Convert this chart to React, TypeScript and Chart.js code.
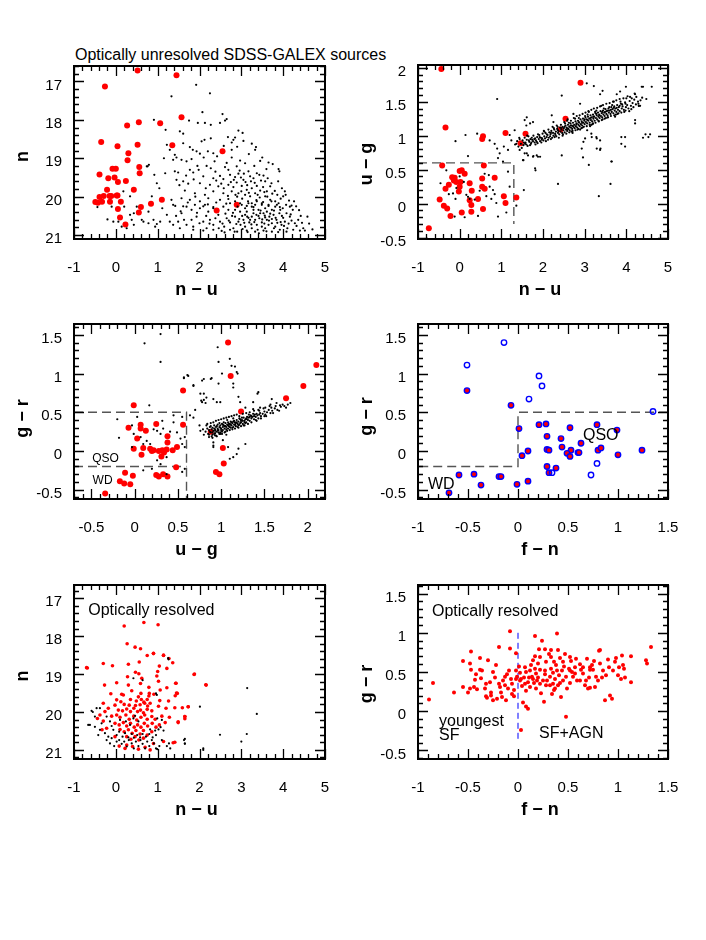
import React, { useEffect, useRef } from 'react';
import { Chart, registerables } from 'chart.js';

Chart.register(...registerables);

const FONT = '"Liberation Sans", Arial, Helvetica, sans-serif';

// ---------------- DATA ----------------
// Panel 1 : n vs n-u (optically unresolved)
const P1_X_TICKS = [-1, 0, 1, 2, 3, 4, 5];
const P1_Y_TICKS = [17, 18, 19, 20, 21];
const P1_RED = [
  0.52,16.72, 1.45,16.84, -0.26,17.13, 1.57,17.93, 0.55,18.06, 1.06,18.09, 0.27,18.15, -0.35,18.58,
  0.04,18.69, 0.52,18.65, 1.35,18.66, 2.55,18.82, 0.30,18.87, 0.28,19.05, -0.08,19.27, 0.0,19.27,
  0.56,19.23, 0.57,19.39, -0.39,19.42, -0.18,19.52, -0.03,19.5, 0.05,19.62, 0.24,19.59, 0.43,19.82,
  -0.21,19.82, -0.29,19.98, -0.39,20.01, -0.15,19.98, -0.11,19.98, 0.02,19.97, 0.04,19.97, -0.49,20.14,
  -0.43,20.16, -0.33,20.13, -0.14,20.13, 0.12,20.13, 0.05,20.32, 0.60,20.27, 0.84,20.18, 1.10,20.08,
  0.55,20.41, 0.10,20.54, 0.23,20.72, 2.41,20.36, 2.89,20.21,
];
const P1_BLACK = [
  1.92,17.09, 2.25,17.31, 1.33,17.39, 2.07,17.8, 2.55,17.85, 1.75,18.02, 1.96,18.08, 2.13,18.08, 2.27,18.13,
  2.49,18.08, 2.61,18.02, 2.65,17.98, 2.93,18.28, 3.03,18.34, 1.53,18.30, 1.61,18.36, 2.12,18.52, 2.05,18.56,
  2.27,18.48, 2.85,18.46, 2.81,18.52, 2.77,18.59, 1.61,18.61, 1.77,18.71, 1.84,18.78, 1.93,18.82, 2.01,18.88,
  3.35,18.71, 3.33,18.78, 3.18,18.89, 2.33,18.87, 2.77,18.78, 1.41,18.91, 1.45,18.98, 1.57,19.04, 1.69,19.08,
  1.81,19.02, 2.77,18.98, 2.97,19.06, 3.09,19.13, 3.45,19.07, 3.65,19.11, 3.89,19.28, 3.91,19.34, 2.17,19.2,
  2.27,19.26, 2.61,19.23, 2.69,19.3, 2.89,19.21, 3.17,19.34, 3.37,19.39, 3.43,19.43, 1.49,19.37, 1.77,19.3,
  1.85,19.37, 2.09,19.47, 2.33,19.52, 2.49,19.46, 2.57,19.54, 2.73,19.43, 2.85,19.49, 2.93,19.40, 3.05,19.56,
  3.21,19.47, 3.29,19.52, 3.57,19.6, 3.69,19.73, 3.97,19.78, 4.04,19.86, 1.61,19.6, 1.73,19.66, 2.01,19.65,
  2.25,19.69, 2.45,19.73, 2.69,19.69, 2.81,19.75, 2.89,19.63, 3.01,19.72, 3.13,19.82, 3.25,19.78, 3.37,19.72,
  3.45,19.84, 3.61,19.86, 1.65,19.84, 1.89,19.91, 2.13,19.95, 2.33,19.86, 2.57,19.91, 2.77,19.86, 2.93,19.91,
  3.09,19.95, 3.21,19.99, 3.33,19.91, 3.57,19.99, 3.69,20.08, 3.81,20.12, 4.0,19.99, 4.2,20.23, 4.31,20.25,
  1.77,20.08, 2.01,20.12, 2.21,20.04, 2.49,20.08, 2.69,20.06, 2.85,20.12, 2.97,20.17, 3.25,20.17, 3.37,20.12,
  3.49,20.21, 3.65,20.24, 3.85,20.21, 3.92,20.27, 1.42,20.24, 1.61,20.25, 2.09,20.25, 2.33,20.27, 3.13,20.24,
  3.29,20.27,
  -0.44,20.27, -0.2,20.59, -0.06,20.65, 0.34,20.47, 0.38,20.6, 0.43,20.73, 0.5,20.26, 0.74,19.21, 0.79,19.17,
  0.62,20.6, 0.66,20.65, 0.78,20.69, 0.9,20.6, 0.94,20.78, 0.98,20.71, 1.06,20.65, 1.11,20.3, 1.15,19.0,
  1.18,19.39, 0.91,18.0, 1.19,18.26, 1.22,18.65, 1.29,18.78, 1.37,19.04, 1.41,19.34, 1.45,19.56, 1.33,20.08,
  1.37,20.21, 1.22,20.47, 1.29,20.65, 1.37,20.73, 1.49,20.65, 1.53,20.82, 1.63,20.6, 1.69,20.73, 1.57,20.43,
  1.81,20.6, 1.85,20.78, 1.93,20.52, 2.0,20.69, 2.09,20.65, 2.17,20.82, 2.25,20.6, 2.33,20.73, 2.45,20.47,
  2.49,20.65, 2.59,20.78, 2.65,20.56, 2.73,20.67, 2.81,20.82, 2.85,20.52, 2.93,20.65, 2.98,20.73, 3.05,20.6,
  3.09,20.78, 3.14,20.52, 3.19,20.67, 3.25,20.82, 3.29,20.43, 3.33,20.6, 3.37,20.73, 3.43,20.56, 3.49,20.67,
  3.53,20.43, 3.57,20.82, 3.61,20.6, 3.67,20.52, 3.73,20.69, 3.78,20.82, 3.84,20.6, 3.91,20.43, 3.96,20.73,
  4.04,20.65, 4.1,20.82, 4.16,20.52, 4.23,20.34, 4.28,20.69, 4.36,20.6, 4.48,20.82, 4.58,20.52, 4.52,20.88,
  2.85,20.34, 2.91,20.26, 3.01,20.21, 3.09,20.3, 3.17,20.17, 3.25,20.26, 3.33,20.21, 3.41,20.34, 3.49,20.17,
  3.57,20.3, 3.65,20.21, 3.73,20.34, 3.81,20.26, 3.89,20.17, 3.99,20.3, 4.07,20.21, 4.16,20.26, 2.01,20.3,
  2.13,20.21, 2.21,20.39, 2.33,20.3, 2.57,20.26, 2.69,20.34, 2.73,20.17, 1.69,20.26, 1.81,20.34, 1.89,20.21,
  1.57,20.04, 1.85,20.86, 2.09,20.88, 2.33,20.86, 2.53,20.89, 2.73,20.86, 2.9,20.91, 3.13,20.88, 3.33,20.91,
  3.53,20.88, 3.73,20.91, 3.92,20.86, 4.08,20.91, 4.24,20.86, 4.4,20.88, 2.97,20.39, 3.13,20.39, 3.29,20.34,
  3.45,20.43, 3.61,20.39, 3.77,20.47, 3.93,20.34, 4.08,20.43, 3.09,20.47, 3.25,20.52, 3.41,20.5, 3.57,20.54,
  3.73,20.58, 2.95,20.58, 3.21,20.6, 3.49,20.78, 3.65,20.73, 3.81,20.78, 0.76,19.21, 0.92,19.43, 0.98,19.65,
  1.04,19.78, 0.86,19.99, 0.18,19.86, 0.34,19.99, 0.2,20.26, 0.43,20.43, 0.78,20.39, -0.1,20.26, 0.06,20.65,
  0.14,20.78, 0.26,20.82,
  2.62,20.44, 2.78,20.5, 2.88,20.71, 3.03,20.84, 3.17,20.55, 3.31,20.66, 3.39,20.86, 3.55,20.7, 3.69,20.44,
  3.86,20.68, 4.0,20.55, 4.13,20.7, 3.46,20.36, 3.02,20.5, 2.7,20.62, 2.46,20.82, 2.24,20.7, 3.36,20.47,
  3.6,20.9, 3.88,20.92, 4.32,20.76, 4.2,20.62, 3.78,20.36, 3.24,20.72, 2.84,20.91, 3.5,20.59, 3.15,20.92,
  2.6,20.93, 3.97,20.5, 4.45,20.68, 3.42,20.95, 3.07,20.68, 3.56,20.49,
  2.58,19.78, 2.82,19.56, 3.1,19.62, 3.32,19.64, 3.52,19.75, 3.74,19.92, 3.0,19.86, 2.68,19.98, 3.44,20.02,
  3.86,19.95, 2.4,19.58, 3.18,19.9, 3.62,20.0, 2.96,19.32, 3.53,19.45,
  1.52,19.7, 1.68,19.45, 1.95,19.2, 2.15,19.78, 2.38,19.35, 2.52,19.66, 2.65,19.12, 2.75,19.62, 2.86,19.95,
  2.99,19.5, 3.06,19.4, 3.14,19.7, 3.23,19.6, 3.31,19.2, 3.39,19.95, 3.47,19.58, 3.55,19.88, 3.63,19.52,
  3.72,19.65, 3.8,19.85, 3.88,19.6, 3.94,20.05, 4.06,19.95, 4.14,20.1, 4.26,20.12, 4.38,20.35, 4.42,20.5,
  4.62,20.7, 4.7,20.85, 2.2,18.82, 2.42,18.95, 2.58,18.68, 2.68,18.45, 2.9,18.7, 3.05,18.55, 3.25,18.62,
  3.5,18.98, 3.75,19.15, 3.6,19.28, 2.36,19.08, 2.1,18.98, 1.98,19.3, 1.86,19.55, 1.9,20.0, 1.72,20.15,
  1.55,20.38, 1.44,20.5, 1.94,20.42, 2.16,20.5, 2.38,20.56, 2.55,20.7, 2.8,20.42, 3.66,20.62, 3.82,20.55,
  4.02,20.76, 3.94,20.66, 4.18,20.46, 3.36,20.09, 3.02,20.05, 2.64,20.18, 2.4,20.15, 2.2,20.2, 3.72,20.12,
  3.16,20.12, 3.52,20.14, 2.9,20.0,
];

// Panel 2 : u-g vs n-u
const P2_X_TICKS = [-1, 0, 1, 2, 3, 4, 5];
const P2_Y_TICKS = [-0.5, 0, 0.5, 1, 1.5, 2];
const P2_RED = [
  -0.44,1.98, 2.9,1.78, -0.34,1.12, 2.54,1.25, 0.54,0.95, 0.56,0.99, 1.1,1.04, 1.58,1.03, 1.46,0.89, 2.42,1.09,
  -0.42,0.56, 0.58,0.56, 0.0,0.48, 0.05,0.49, 0.12,0.44, -0.18,0.39, -0.12,0.38, -0.14,0.34, -0.08,0.32,
  -0.26,0.28, -0.34,0.22, -0.02,0.18, 0.02,0.32, 0.0,0.25, 0.24,0.3, 0.29,0.19, 0.54,0.37, 0.54,0.25, 0.6,0.22,
  0.84,0.38, 0.44,0.07, 0.24,0.05, 0.28,-0.02, 1.06,0.11, 1.36,0.09, 1.1,0.01, -0.48,0.06, -0.38,-0.03,
  -0.3,-0.07, 0.05,-0.13, 0.28,-0.12, 0.56,-0.08, -0.22,-0.18, -0.74,-0.36,
];
const P2_BLACK = [
  2.45,1.59, 3.05,1.77, 3.22,1.73, 3.43,1.66, 3.37,1.61, 3.77,1.61, 3.85,1.65, 3.99,1.72, 4.21,1.61, 4.37,1.72,
  4.61,1.72, 4.29,1.47, 4.33,1.44, 4.09,1.57, 2.21,1.3, 2.25,1.2, 1.61,1.27, 1.69,1.18, 3.01,0.96, 3.17,0.98,
  3.29,0.96, 3.37,0.93, 2.97,0.91, 2.93,0.81, 3.29,0.81, 3.37,0.79, 3.65,0.62, 3.97,0.98, 3.97,0.84, 4.21,1.23,
  4.21,1.18, 4.53,0.98, 4.57,1.02, 1.93,0.69, 1.85,0.71, 1.77,0.7, 1.61,0.74, 1.53,0.64, 1.81,0.52, 2.45,0.71,
  2.73,1.32, 2.89,1.47, 0.9,1.54, -0.1,0.92, 0.14,1.01, 0.2,0.7, 0.42,1.03, 0.72,0.93, 0.84,0.88, 0.9,0.81,
  0.96,0.74, 0.92,0.67, 1.06,0.84, 1.16,0.79, 1.2,1.01, 1.32,1.08, 1.24,0.93, 1.36,0.88, 1.44,0.79, 1.56,1.23,
  1.6,1.15, 1.76,1.2, 1.56,0.74, 1.64,0.71, 1.76,0.69, 1.88,0.69, 1.82,0.49, 1.52,0.64, 2.36,0.29, 2.96,0.68,
  3.1,0.57, 3.34,0.11, 3.62,0.29, 3.64,0.62, 3.38,0.81, 3.88,0.98, 3.88,0.88, 4.4,0.97, 4.46,1.02, 4.3,1.44,
  4.38,1.56, 4.48,1.54, 4.4,1.72, 4.2,1.62, 3.06,1.08, 3.16,1.03, 3.28,0.98,
  -0.26,0.14, -0.16,0.15, -0.08,0.23, 0.0,0.4, 0.1,0.32, 0.16,0.13, 0.2,0.1, 0.24,0.07, 0.36,0.06, 0.48,0.19,
  0.6,0.44, 0.7,0.42, 0.72,0.25, 0.8,0.2, 0.84,0.14, 0.76,0.07, 0.64,0.11, 0.88,0.01, 0.92,-0.19, 1.12,-0.13,
  1.36,-0.03, 1.2,0.25, 1.16,0.47, 1.04,0.62, 0.44,-0.18, 0.12,-0.2, -0.12,-0.19, -0.32,0.49, -0.46,0.3,
  -0.1,0.07, 1.54,0.2,
  1.33,0.87, 1.38,0.92, 1.41,0.84, 1.44,0.95, 1.47,0.88, 1.51,0.93, 1.53,0.86, 1.56,0.97, 1.58,0.9, 1.61,0.94,
  1.63,0.85, 1.65,0.99, 1.67,0.91, 1.7,0.95, 1.71,0.88, 1.73,0.97, 1.76,0.92, 1.77,1.0, 1.8,0.9, 1.81,0.96,
  1.83,0.93, 1.86,0.98, 1.87,0.89, 1.9,0.95, 1.91,1.01, 1.93,0.92, 1.95,0.97, 1.97,0.94, 1.99,1.03, 2.01,0.93,
  2.03,0.99, 2.05,0.96, 2.06,1.04, 2.09,0.98, 2.11,1.01, 2.12,0.94, 2.15,1.05, 2.17,0.99, 2.18,1.02, 2.2,1.07,
  2.22,0.97, 2.24,1.04, 2.25,1.0, 2.27,1.09, 2.29,1.03, 2.31,1.06, 2.32,0.99, 2.34,1.1, 2.36,1.04, 2.37,1.07,
  2.39,1.02, 2.41,1.12, 2.42,1.06, 2.44,1.09, 2.46,1.04, 2.47,1.13, 2.49,1.08, 2.5,1.11, 2.52,1.05, 2.54,1.15,
  2.55,1.09, 2.57,1.12, 2.58,1.07, 2.6,1.16, 2.61,1.1, 2.63,1.13, 2.64,1.08, 2.66,1.18, 2.67,1.12, 2.69,1.15,
  2.7,1.1, 2.72,1.19, 2.73,1.13, 2.75,1.16, 2.76,1.11, 2.78,1.21, 2.79,1.14, 2.81,1.18, 2.82,1.12, 2.84,1.22,
  2.85,1.16, 2.87,1.19, 2.88,1.14, 2.9,1.24, 2.91,1.17, 2.93,1.21, 2.94,1.15, 2.96,1.25, 2.97,1.19, 2.99,1.22,
  3.0,1.17, 3.02,1.27, 3.03,1.2, 3.05,1.24, 3.06,1.18, 3.08,1.28, 3.09,1.22, 3.11,1.25, 3.12,1.19, 3.14,1.3,
  3.15,1.23, 3.17,1.27, 3.18,1.21, 3.2,1.31, 3.21,1.25, 3.23,1.28, 3.24,1.22, 3.26,1.33, 3.27,1.26, 3.29,1.3,
  3.3,1.24, 3.32,1.34, 3.33,1.28, 3.35,1.31, 3.36,1.26, 3.38,1.36, 3.39,1.29, 3.41,1.33, 3.42,1.27, 3.44,1.37,
  3.45,1.31, 3.47,1.34, 3.48,1.29, 3.5,1.39, 3.52,1.32, 3.53,1.36, 3.55,1.3, 3.57,1.4, 3.58,1.34, 3.6,1.37,
  3.62,1.32, 3.64,1.42, 3.65,1.35, 3.67,1.39, 3.69,1.33, 3.71,1.43, 3.72,1.37, 3.74,1.4, 3.76,1.35, 3.78,1.45,
  3.8,1.38, 3.82,1.42, 3.84,1.36, 3.87,1.47, 3.89,1.4, 3.91,1.43, 3.94,1.38, 3.97,1.49, 3.99,1.42, 4.02,1.45,
  4.05,1.4, 4.08,1.51, 4.11,1.44, 4.15,1.48, 4.19,1.53, 4.23,1.46, 4.28,1.5,
  2.35,1.13, 2.48,1.02, 2.62,1.19, 2.71,1.07, 2.86,1.26, 2.95,1.12, 3.07,1.31, 3.16,1.16, 3.25,1.35, 3.34,1.21,
  3.46,1.4, 3.56,1.27, 3.66,1.45, 3.75,1.31, 3.86,1.5, 3.95,1.35, 2.53,1.18, 2.68,1.06, 2.83,1.09, 3.01,1.29,
  3.13,1.14, 3.28,1.37, 3.43,1.24, 3.59,1.42, 3.73,1.28, 3.9,1.46, 2.26,1.11, 2.14,0.97, 2.03,1.06, 1.92,0.98,
  1.79,0.95, 1.66,0.93, 1.54,0.9, 2.58,1.22, 2.77,1.25, 3.1,1.35, 3.4,1.44, 3.7,1.5, 4.0,1.55, 2.89,1.09,
  3.2,1.18, 3.51,1.26, 3.81,1.33, 4.12,1.39,
  1.43,0.97, 1.49,0.82, 1.57,0.88, 1.62,1.0, 1.69,0.86, 1.74,0.94, 1.82,0.87, 1.88,1.02, 1.96,0.9, 2.02,1.07,
  2.07,0.92, 2.13,1.09, 2.19,0.95, 2.23,1.13, 2.28,0.98, 2.33,1.15, 2.38,0.97, 2.43,1.16, 2.47,1.0, 2.51,1.2,
  2.56,1.03, 2.59,1.24, 2.63,1.05, 2.67,1.22, 2.71,1.04, 2.74,1.26, 2.78,1.08, 2.81,1.29, 2.85,1.1, 2.88,1.3,
  2.92,1.11, 2.95,1.32, 2.98,1.13, 3.02,1.34, 3.05,1.14, 3.09,1.36, 3.12,1.16, 3.16,1.38, 3.19,1.17, 3.22,1.4,
  3.26,1.19, 3.3,1.41, 3.33,1.22, 3.37,1.43, 3.41,1.23, 3.44,1.45, 3.48,1.25, 3.52,1.47, 3.55,1.27, 3.6,1.48,
  3.63,1.29, 3.68,1.5, 3.71,1.3, 3.76,1.52, 3.79,1.32, 3.84,1.54, 3.88,1.34, 3.93,1.55, 3.98,1.37, 4.03,1.58,
  4.07,1.36, 4.13,1.55, 4.17,1.42, 4.24,1.57, 4.3,1.44, 4.34,1.52,
  2.52,1.13, 2.66,1.15, 2.8,1.17, 2.94,1.19, 3.07,1.23, 3.21,1.28, 3.35,1.3, 3.49,1.35, 3.63,1.38, 3.77,1.41,
  2.44,1.11, 2.58,1.1, 2.72,1.14, 2.86,1.2, 3.0,1.24, 3.14,1.26, 3.28,1.32, 3.42,1.35, 3.56,1.37, 3.7,1.41,
  3.84,1.44, 3.98,1.47, 2.36,1.08, 2.3,1.01, 2.19,1.04, 2.09,1.02, 1.98,0.96, 1.85,0.91, 1.72,0.9, 1.6,0.87,
];

// Panel 3 : g-r vs u-g
const P3_X_TICKS = [-0.5, 0, 0.5, 1, 1.5, 2];
const P3_Y_TICKS = [-0.5, 0, 0.5, 1, 1.5];
const P3_RED = [
  1.08,1.4, 1.11,0.97, 0.56,0.78, -0.01,0.59, 1.23,0.51, 1.75,0.68, 1.95,0.84, 2.1,1.11, 0.56,0.34, 0.25,0.35,
  0.07,0.34, -0.07,0.3, 0.07,0.29, 0.13,0.26, 0.88,0.25, 0.38,0.19, 0.03,0.16, 0.38,0.11, -0.01,0.03, 0.1,0.04,
  0.18,0.03, 0.2,0.0, 0.22,0.01, 0.28,0.0, 0.32,0.01, 0.37,0.02, 0.49,0.05, 0.44,0.01, 1.02,0.04, 0.34,-0.02,
  0.08,-0.05, 0.31,-0.07, 1.03,-0.16, 0.48,-0.21, 0.94,-0.27, 0.98,-0.3, -0.11,-0.28, 0.25,-0.31, 0.28,-0.33,
  0.33,-0.3, 0.38,-0.33, -0.02,-0.32, -0.17,-0.39, -0.12,-0.42, -0.05,-0.43, -0.34,-0.55,
];
const P3_BLACK = [
  0.96,1.34, 1.1,1.19, 1.16,1.09, 1.01,1.0, 1.19,1.0, 1.14,0.87, 0.97,0.87, 0.8,0.93, 0.88,0.93, 0.68,0.85,
  0.57,0.95, 0.61,0.98, 0.8,0.74, 0.91,0.67, 0.95,0.63, 0.99,0.63, 0.78,0.63, 0.82,0.62, 0.7,0.53, 0.68,0.43,
  1.2,0.7, 1.43,0.76, 1.42,0.74, 1.37,0.63, 1.22,0.63, 1.28,0.56, 1.57,0.6, 1.64,0.62, 1.68,0.59, 1.585,0.67,
  1.37,0.54, 1.45,0.56, 1.51,0.56, 0.91,0.11, 0.91,0.05, 1.2,0.03, 0.58,0.18,
  0.115,1.39, 0.3,1.15, 0.3,1.51, -0.2,0.41, -0.18,0.17, 0.17,0.59, 0.03,0.44, 0.22,0.28, 0.26,0.26, 0.3,0.22,
  0.33,0.29, 0.41,0.25, 0.45,0.37, 0.49,0.24, 0.53,0.16, 0.55,0.09, 0.58,0.05, 0.14,0.13, 0.18,0.09, 0.1,0.09,
  -0.03,0.05, 0.07,0.18, -0.01,0.22, -0.03,0.33, 0.26,-0.12, 0.3,-0.17, 0.37,-0.08, 0.58,-0.23, 0.55,-0.27,
  0.37,-0.3, 0.2,-0.23, 0.1,-0.25, 0.32,0.39, 0.45,0.46, 0.55,0.44, 0.64,0.46, 0.62,0.97, 0.57,0.94, 0.68,0.84,
  0.78,0.91, 0.89,0.94, 0.76,0.74, 0.77,0.65, 0.8,0.66, 0.83,0.69, 0.97,1.15, 1.14,0.82, 1.02,0.14, 1.08,0.05,
  1.14,-0.08, 1.1,-0.1, 1.18,-0.04, 1.28,0.09, 0.93,0.2, 0.91,0.07, 0.99,0.22, 0.75,0.33, 0.76,0.26, 1.12,1.1,
  1.18,1.02,
  0.82,0.25, 0.84,0.29, 0.85,0.22, 0.86,0.27, 0.87,0.31, 0.88,0.24, 0.89,0.28, 0.9,0.21, 0.9,0.3, 0.91,0.26,
  0.92,0.33, 0.93,0.23, 0.93,0.28, 0.94,0.31, 0.95,0.25, 0.96,0.29, 0.96,0.34, 0.97,0.27, 0.98,0.31, 0.99,0.24,
  0.99,0.33, 1.0,0.29, 1.01,0.35, 1.02,0.27, 1.02,0.31, 1.03,0.33, 1.04,0.29, 1.05,0.36, 1.05,0.25, 1.06,0.31,
  1.07,0.34, 1.08,0.29, 1.08,0.37, 1.09,0.32, 1.1,0.35, 1.11,0.3, 1.11,0.38, 1.12,0.33, 1.13,0.36, 1.14,0.31,
  1.15,0.39, 1.15,0.34, 1.16,0.37, 1.17,0.32, 1.18,0.4, 1.19,0.35, 1.2,0.38, 1.21,0.34, 1.22,0.41, 1.23,0.37,
  1.24,0.4, 1.25,0.35, 1.26,0.43, 1.27,0.39, 1.28,0.41, 1.29,0.37, 1.3,0.44, 1.31,0.4, 1.32,0.43, 1.33,0.39,
  1.34,0.46, 1.35,0.42, 1.36,0.44, 1.38,0.41, 1.39,0.47, 1.4,0.44, 1.42,0.46, 1.43,0.42, 1.45,0.49, 1.46,0.45,
  1.48,0.48, 1.5,0.51, 1.51,0.47, 1.53,0.5, 1.55,0.53, 1.57,0.49, 1.59,0.52, 1.62,0.55, 1.65,0.53, 1.69,0.57,
  1.73,0.58, 1.77,0.6, 1.8,0.62,
  0.92,0.29, 0.95,0.32, 0.97,0.24, 1.0,0.27, 1.03,0.37, 1.04,0.32, 1.06,0.28, 1.09,0.35, 1.1,0.31, 1.12,0.37,
  1.13,0.3, 1.16,0.34, 1.18,0.37, 1.2,0.33, 1.22,0.36, 1.24,0.43, 1.25,0.39, 1.28,0.36, 1.3,0.41, 0.88,0.32,
  0.94,0.2, 0.98,0.36, 1.01,0.22, 1.07,0.4, 1.14,0.42, 1.19,0.31, 1.26,0.33, 1.33,0.44, 1.37,0.48, 1.41,0.39,
  0.86,0.18, 0.9,0.17, 0.83,0.33, 1.06,0.21, 1.5,0.45, 1.58,0.56, 1.44,0.52, 0.79,0.28, 0.8,0.21,
  0.84,0.35, 0.86,0.21, 0.88,0.36, 0.89,0.19, 0.91,0.37, 0.92,0.22, 0.94,0.39, 0.95,0.19, 0.97,0.4, 0.98,0.22,
  1.0,0.41, 1.01,0.25, 1.03,0.42, 1.04,0.24, 1.06,0.43, 1.07,0.26, 1.09,0.44, 1.1,0.27, 1.12,0.45, 1.13,0.28,
  1.15,0.46, 1.16,0.29, 1.18,0.47, 1.2,0.3, 1.21,0.45, 1.23,0.32, 1.25,0.48, 1.27,0.33, 1.29,0.49, 1.31,0.35,
  1.33,0.5, 1.35,0.37, 1.38,0.52, 1.4,0.4, 1.43,0.53, 1.46,0.42, 1.49,0.55, 1.52,0.45, 1.56,0.58, 1.6,0.49,
  1.63,0.58, 1.67,0.52, 1.71,0.6, 1.75,0.56, 0.87,0.25, 0.93,0.26, 0.99,0.3, 1.05,0.32, 1.11,0.34, 1.17,0.36,
  1.23,0.39, 1.29,0.42, 1.35,0.45, 1.41,0.48, 0.9,0.24, 0.96,0.27, 1.02,0.34, 1.08,0.33, 1.14,0.38, 1.21,0.42,
  1.27,0.37, 1.32,0.47, 1.38,0.45, 1.44,0.47,
];

// Panel 4 : g-r vs f-n
const P4_X_TICKS = [-1, -0.5, 0, 0.5, 1, 1.5];
const P4_Y_TICKS = [-0.5, 0, 0.5, 1, 1.5];
const P4_OPEN = [
  -0.14,1.4, -0.51,1.11, 0.21,0.97, 0.24,0.84, 0.11,0.67, 1.35,0.51, 0.79,-0.16, 0.34,-0.28, 0.73,-0.31,
];
const P4_FILLED = [
  -0.51,0.78, -0.07,0.59, 0.01,0.29, 0.21,0.34, 0.28,0.35, 0.52,0.3, 0.79,0.34, 0.99,0.27, 0.29,0.19, 0.43,0.16,
  0.63,0.1, 0.44,0.05, 0.29,0.02, 0.31,0.01, 0.53,0.01, 0.49,-0.03, 0.52,-0.07, 0.6,-0.02, 0.61,-0.02, 0.8,0.01,
  0.83,0.04, 1.24,0.01, 1.0,-0.05, 0.1,0.0, 0.04,-0.06, 0.29,-0.2, 0.38,-0.22, 0.31,-0.28, 0.1,-0.39, -0.01,-0.43,
  -0.59,-0.31, -0.44,-0.3, -0.37,-0.44, -0.19,-0.33, -0.17,-0.33, -0.69,-0.54,
];

// Panel 5 : n vs n-u (optically resolved)
const P5_X_TICKS = [-1, 0, 1, 2, 3, 4, 5];
const P5_Y_TICKS = [17, 18, 19, 20, 21];
const P5_RED = [
  0.2,17.73, 0.67,17.64, 1.01,17.7, 0.27,18.2, -0.7,18.83, 0.46,18.29, 0.59,18.33, 0.9,18.45,
  0.75,18.51, 0.9,18.46, 1.14,18.51, 1.27,18.59, -0.3,18.72, -0.08,18.78, 0.3,18.74, 0.56,18.68, 1.04,18.79,
  1.22,18.85, -0.68,18.84, 0.47,18.95, 0.55,18.99, 1.0,18.93, 0.98,19.05, 1.87,19.01, 0.28,19.07, 0.62,19.11,
  1.02,19.19, -0.27,19.29, 0.02,19.23, 0.3,19.29, 0.59,19.25, 0.79,19.35, 1.44,19.24, 2.15,19.28, 0.38,19.44,
  0.6,19.51, 0.8,19.51, 1.06,19.42, 1.22,19.36, -0.12,19.52, 0.14,19.53, 0.18,19.55, 0.54,19.6, 0.79,19.58,
  0.91,19.53, 1.47,19.51, 1.42,19.57, 0.02,19.68, 0.12,19.73, 0.35,19.67, 0.49,19.71, 0.61,19.67, 0.67,19.74,
  0.75,19.67, 1.05,19.7, 1.26,19.71, -0.3,19.77, -0.02,19.82, 0.2,19.8, 0.32,19.82, 0.47,19.83, 0.58,19.81,
  0.69,19.77, 0.76,19.84, 0.82,19.77, 1.02,19.85, -0.18,19.9, 0.06,19.95, 0.16,19.97, 0.26,19.92, 0.35,19.99,
  0.43,19.9, 0.52,19.99, 0.59,19.95, 0.66,20.02, 0.75,19.93, 0.86,19.97, 1.2,19.9, 1.41,19.89, 1.59,19.89,
  1.73,19.86, -0.26,19.99, -0.38,20.08, -0.44,20.17, -0.3,20.24, -0.1,20.11, 0.02,20.08, 0.1,20.14, 0.24,20.08,
  0.32,20.19, 0.43,20.11, 0.5,20.21, 0.6,20.14, 0.69,20.08, 0.75,20.19, 0.86,20.12, 0.94,20.19, 1.1,20.11,
  1.28,20.14, 1.49,20.26, 1.65,20.12, 1.65,20.18, -0.02,20.3, 0.08,20.34, 0.18,20.28, 0.26,20.37, 0.35,20.3,
  0.44,20.4, 0.52,20.34, 0.6,20.4, 0.68,20.3, 0.76,20.37, 0.87,20.3, 0.96,20.4, 1.04,20.34, 1.18,20.28,
  0.1,20.46, 0.2,20.52, 0.3,20.47, 0.39,20.56, 0.48,20.49, 0.58,20.58, 0.66,20.49, 0.75,20.61, 0.86,20.52,
  0.26,20.65, 0.36,20.72, 0.46,20.65, 0.55,20.74, 0.66,20.69, -0.02,20.65, -0.22,20.43, -0.33,20.47, 1.14,20.78,
  1.37,20.81, 0.9,20.83, 0.08,20.9, 0.22,20.96, 0.4,20.91, 0.54,20.98, 0.7,20.93, 0.82,21.0, 0.26,20.87,
  1.41,20.8, 1.65,20.12, 1.49,20.28, 1.73,19.86, 1.43,19.24, 1.45,19.5, 1.36,18.7, 1.14,18.5, 1.88,19.0, 2.16,19.29,
];
const P5_BLACK = [
  3.14,19.37, 3.37,20.05, 2.49,20.6, 3.13,20.58, 3.0,20.78, 2.01,19.86, 2.09,21.0, 1.65,20.71, 1.65,20.83,
  1.25,18.58, 0.98,19.55, 0.42,19.11, 0.46,20.1, -0.5,20.12, -0.38,19.9, -0.62,20.34, -0.55,20.0,
  -0.58,19.97, -0.46,19.9, -0.66,20.34, -0.5,20.39, -0.38,20.47, -0.42,20.61, -0.26,20.56, -0.18,20.65,
  -0.22,20.74, -0.1,20.69, -0.14,20.83, -0.04,20.9, 0.02,20.78, 0.08,20.74, 0.14,20.84, 0.2,20.78, 0.26,20.91,
  0.31,20.74, 0.38,20.83, 0.43,20.96, 0.48,20.78, 0.54,20.9, 0.59,20.74, 0.64,20.84, 0.7,20.96, 0.75,20.78,
  0.8,20.9, 0.86,20.74, 0.91,20.83, 0.96,20.96, 0.99,20.98, 1.04,20.9, 1.1,20.74, 1.22,20.9, 1.27,20.83,
  1.3,20.96, -0.06,20.47, 0.02,20.61, 0.08,20.52, 0.16,20.65, 0.22,20.56, 0.3,20.67, 0.38,20.58, 0.43,20.68,
  0.51,20.61, 0.58,20.67, 0.64,20.58, 0.72,20.65, 0.8,20.58, 0.88,20.67, 0.96,20.61, 1.02,20.46, 1.07,20.4,
  1.14,20.49, -0.14,20.25, -0.1,20.37, 0.1,20.21, 0.34,20.34, 0.54,20.25, 0.82,20.46, 0.94,20.49, 0.99,20.17,
  1.1,20.21, 0.96,19.51, 0.64,19.16, 1.26,18.61, 0.42,20.17, 0.24,20.25, -0.22,20.12, -0.34,20.3, 1.63,20.74,
  1.65,20.84, 2.09,20.96,
];

// Panel 6 : g-r vs f-n (optically resolved)
const P6_X_TICKS = [-1, -0.5, 0, 0.5, 1, 1.5];
const P6_Y_TICKS = [-0.5, 0, 0.5, 1, 1.5];
const P6_RED = [
  -0.89,0.15, -0.85,0.36, -0.64,0.24, -0.55,0.64, -0.47,0.76, -0.48,0.61, -0.47,0.53, -0.48,0.29, -0.44,0.31,
  -0.42,0.47, -0.43,0.4, -0.41,0.28, -0.38,0.68, -0.38,0.53, -0.36,0.52, -0.37,0.42, -0.32,0.35, -0.32,0.19,
  -0.31,0.17, -0.27,0.2, -0.27,0.24, -0.25,0.5, -0.22,0.59, -0.21,0.16, -0.18,0.31, -0.19,0.35, -0.16,0.18,
  -0.19,0.82, -0.13,0.44, -0.11,0.47, -0.1,0.29, -0.08,0.8, -0.08,1.02, -0.07,0.41, -0.06,0.35, -0.06,0.22,
  -0.04,0.27, -0.04,0.19, -0.02,0.41, -0.02,0.74, -0.01,0.44, -0.02,0.52, 0.01,0.57, 0.02,0.39, 0.02,0.49,
  0.03,-0.24, 0.03,0.41, 0.05,0.11, 0.06,0.43, 0.07,0.56, 0.08,0.5, 0.08,0.06, 0.1,0.03, 0.1,0.37, 0.11,0.43,
  0.12,0.31, 0.13,0.59, 0.14,0.44, 0.15,0.65, 0.16,0.36, 0.17,0.7, 0.17,0.96, 0.18,0.48, 0.18,0.29, 0.2,0.43,
  0.21,0.79, 0.22,0.53, 0.22,0.35, 0.23,0.23, 0.24,0.9, 0.25,0.39, 0.26,0.12, 0.27,0.47, 0.28,0.63, 0.28,0.33,
  0.31,0.73, 0.32,0.44, 0.33,0.54, 0.34,0.22, 0.35,0.49, 0.35,0.35, 0.36,0.63, 0.37,0.41, 0.37,0.29, 0.39,0.99,
  0.39,0.52, 0.4,0.78, 0.41,0.46, 0.42,0.68, 0.42,0.36, 0.43,0.18, 0.44,0.52, 0.45,0.39, 0.46,0.57, 0.47,0.73,
  0.48,-0.07, 0.48,0.44, 0.49,0.29, 0.51,0.54, 0.52,0.36, 0.53,0.64, 0.54,0.5, 0.55,0.44, 0.57,0.56, 0.59,0.39,
  0.62,0.6, 0.63,0.53, 0.65,0.48, 0.67,0.33, 0.69,0.67, 0.71,0.43, 0.72,0.3, 0.72,0.53, 0.74,0.59, 0.76,0.64,
  0.78,0.44, 0.8,0.39, 0.81,0.77, 0.82,0.78, 0.84,0.43, 0.87,0.14, 0.9,0.66, 0.91,0.56, 0.92,0.2, 0.94,0.16,
  0.97,0.63, 0.98,0.68, 1.0,0.46, 1.01,0.56, 1.03,0.41, 1.04,0.71, 1.05,0.59, 1.06,0.54, 1.07,0.43, 1.13,0.7,
  1.13,0.37, 1.28,0.65, 1.29,0.61, 1.33,0.82,
  0.04,0.32, 0.07,0.35, 0.08,0.26, 0.12,0.52, 0.15,0.41, 0.19,0.39, 0.29,0.39, 0.32,0.33, 0.4,0.33, 0.36,0.27,
  0.45,0.63, 0.52,0.52, 0.57,0.48, 0.62,0.39, 0.68,0.39, 0.75,0.53, 0.77,0.31, 0.7,0.29, 0.85,0.52, 0.95,0.52,
  0.88,0.46, 0.17,0.54, 0.2,0.61, 0.27,0.52, 0.38,0.59, 0.33,0.69, 0.52,0.69, 0.58,0.67, 0.65,0.56, 0.72,0.56,
  0.82,0.61, 0.22,0.69, 0.27,0.79, 0.33,0.78,
  -0.3,0.65, -0.23,0.43, -0.15,0.39, -0.09,0.52, -0.13,0.33, -0.17,0.24, -0.12,0.14, -0.25,0.14, -0.33,0.29,
  -0.55,0.31, -0.5,0.24, -0.28,0.37,
];

// ---------------- RENDERING ----------------
type Line = { pts: number[][]; color: string; dash: number[]; width: number };
type Txt = { t: string; x: number; y: number; size: number };
type Cfg = {
  left: number; top: number; w: number; h: number;
  box: { l: number; t: number; r: number; b: number };
  x: { min: number; max: number; ticks: number[]; minor: number };
  y: { min: number; max: number; ticks: number[]; minor: number; reverse?: boolean };
  xTitle: string; yTitle: string; yTitleDy: number;
  datasets: any[]; lines: Line[]; texts: Txt[];
};

function toPts(a: number[]) {
  const r: { x: number; y: number }[] = [];
  for (let i = 0; i + 1 < a.length; i += 2) r.push({ x: a[i], y: a[i + 1] });
  return r;
}

const black = (d: number[]) => ({ data: toPts(d), pointRadius: 1.1, pointBackgroundColor: '#000', pointBorderWidth: 0, pointBorderColor: '#000' });
const red = (d: number[], r: number) => ({ data: toPts(d), pointRadius: r, pointBackgroundColor: '#ff0000', pointBorderWidth: 0, pointBorderColor: '#ff0000' });

const GRAY: Line['dash'] = [9, 5];

function makePlugin(cfg: Cfg) {
  return {
    id: 'frameDecor',
    beforeDatasetsDraw(chart: any) {
      const { ctx, chartArea: a } = chart;
      const xs = chart.scales.x, ys = chart.scales.y;
      ctx.save();
      ctx.beginPath();
      ctx.rect(a.left, a.top, a.right - a.left, a.bottom - a.top);
      ctx.clip();
      for (const l of cfg.lines) {
        ctx.strokeStyle = l.color;
        ctx.lineWidth = l.width;
        ctx.setLineDash(l.dash);
        ctx.beginPath();
        l.pts.forEach((p, i) => {
          const px = xs.getPixelForValue(p[0]);
          const py = ys.getPixelForValue(p[1]);
          if (i === 0) ctx.moveTo(px, py); else ctx.lineTo(px, py);
        });
        ctx.stroke();
      }
      ctx.restore();
    },
    afterDraw(chart: any) {
      const { ctx, chartArea: a } = chart;
      const xs = chart.scales.x, ys = chart.scales.y;
      ctx.save();
      ctx.strokeStyle = '#000';
      ctx.lineWidth = 1.3;
      ctx.setLineDash([]);
      ctx.beginPath();
      const isMajor = (list: number[], v: number) => list.some((t) => Math.abs(t - v) < 1e-6);
      const sx = cfg.x.minor;
      for (let k = Math.ceil(cfg.x.min / sx - 1e-6); k * sx <= cfg.x.max + 1e-6; k++) {
        const v = Math.round(k * sx * 1000) / 1000;
        const len = isMajor(cfg.x.ticks, v) ? 10 : 5;
        const p = Math.round(xs.getPixelForValue(v)) + 0.5;
        ctx.moveTo(p, a.bottom); ctx.lineTo(p, a.bottom - len);
        ctx.moveTo(p, a.top); ctx.lineTo(p, a.top + len);
      }
      const sy = cfg.y.minor;
      const lo = Math.min(cfg.y.min, cfg.y.max), hi = Math.max(cfg.y.min, cfg.y.max);
      for (let k = Math.ceil(lo / sy - 1e-6); k * sy <= hi + 1e-6; k++) {
        const v = Math.round(k * sy * 1000) / 1000;
        const len = isMajor(cfg.y.ticks, v) ? 10 : 5;
        const p = Math.round(ys.getPixelForValue(v)) + 0.5;
        ctx.moveTo(a.left, p); ctx.lineTo(a.left + len, p);
        ctx.moveTo(a.right, p); ctx.lineTo(a.right - len, p);
      }
      ctx.stroke();
      ctx.lineWidth = 2;
      ctx.strokeRect(a.left, a.top, a.right - a.left, a.bottom - a.top);

      ctx.fillStyle = '#000';
      ctx.textAlign = 'left';
      ctx.textBaseline = 'alphabetic';
      for (const t of cfg.texts) {
        ctx.font = `${t.size}px ${FONT}`;
        ctx.fillText(t.t, xs.getPixelForValue(t.x), ys.getPixelForValue(t.y));
      }
      ctx.font = `bold 18px ${FONT}`;
      ctx.textAlign = 'center';
      ctx.fillText(cfg.xTitle, (a.left + a.right) / 2 - 3, a.bottom + 56);
      ctx.translate(a.left - 51, (a.top + a.bottom) / 2 + cfg.yTitleDy);
      ctx.rotate(-Math.PI / 2);
      ctx.textBaseline = 'middle';
      ctx.fillText(cfg.yTitle, 0, 0);
      ctx.restore();
    },
  };
}

const fmt = (v: number) => String(Math.round(v * 100) / 100);

function Panel({ cfg }: { cfg: Cfg }) {
  const ref = useRef<HTMLCanvasElement | null>(null);
  useEffect(() => {
    if (!ref.current) return;
    const tickFont = { family: FONT, size: 15 };
    const chart = new Chart(ref.current, {
      type: 'scatter',
      data: { datasets: cfg.datasets },
      plugins: [makePlugin(cfg)],
      options: {
        animation: false,
        responsive: false,
        events: [],
        layout: { padding: { top: cfg.box.t, right: cfg.w - cfg.box.r, left: 0, bottom: 0 } },
        plugins: { legend: { display: false }, tooltip: { enabled: false }, title: { display: false } },
        scales: {
          x: {
            type: 'linear', position: 'bottom', min: cfg.x.min, max: cfg.x.max,
            grid: { display: false, drawTicks: false }, border: { display: false },
            ticks: { font: tickFont, color: '#000', padding: 20, maxRotation: 0, autoSkip: false, callback: (v: any) => fmt(Number(v)) },
            afterBuildTicks: (s: any) => { s.ticks = cfg.x.ticks.map((v) => ({ value: v })); },
            afterFit: (s: any) => { s.height = cfg.h - cfg.box.b; },
          },
          y: {
            type: 'linear', position: 'left', min: cfg.y.min, max: cfg.y.max, reverse: !!cfg.y.reverse,
            grid: { display: false, drawTicks: false }, border: { display: false },
            ticks: { font: tickFont, color: '#000', padding: 12, labelOffset: 4, autoSkip: false, callback: (v: any) => fmt(Number(v)) },
            afterBuildTicks: (s: any) => { s.ticks = cfg.y.ticks.map((v) => ({ value: v })); },
            afterFit: (s: any) => { s.width = cfg.box.l; },
          },
        },
      } as any,
    });
    return () => chart.destroy();
  }, [cfg]);
  return (
    <canvas
      ref={ref}
      width={cfg.w}
      height={cfg.h}
      style={{ position: 'absolute', left: cfg.left, top: cfg.top, width: cfg.w, height: cfg.h }}
    />
  );
}

const DASH_GRAY = '#555555';

const PANELS: Cfg[] = [
  {
    left: 0, top: 40, w: 353, h: 270, box: { l: 74, t: 26, r: 325, b: 199 },
    x: { min: -1, max: 5, ticks: P1_X_TICKS, minor: 0.2 },
    y: { min: 16.6, max: 21.1, ticks: P1_Y_TICKS, minor: 0.2, reverse: true },
    xTitle: 'n \u2212 u', yTitle: 'n', yTitleDy: 4,
    datasets: [black(P1_BLACK), red(P1_RED, 3)],
    lines: [], texts: [],
  },
  {
    left: 353, top: 40, w: 353, h: 270, box: { l: 65, t: 25, r: 315, b: 199 },
    x: { min: -1, max: 5, ticks: P2_X_TICKS, minor: 0.2 },
    y: { min: -0.52, max: 2.04, ticks: P2_Y_TICKS, minor: 0.1 },
    xTitle: 'n \u2212 u', yTitle: 'u \u2212 g', yTitleDy: 12,
    datasets: [black(P2_BLACK), red(P2_RED, 3)],
    lines: [
      { pts: [[-1, 0.6], [1.3, 0.6], [1.3, -0.3]], color: DASH_GRAY, dash: GRAY, width: 1.4 },
    ],
    texts: [],
  },
  {
    left: 0, top: 300, w: 353, h: 270, box: { l: 74, t: 24, r: 325, b: 199 },
    x: { min: -0.7, max: 2.2, ticks: P3_X_TICKS, minor: 0.1 },
    y: { min: -0.62, max: 1.64, ticks: P3_Y_TICKS, minor: 0.1 },
    xTitle: 'u \u2212 g', yTitle: 'g \u2212 r', yTitleDy: 7,
    datasets: [black(P3_BLACK), red(P3_RED, 3)],
    lines: [
      { pts: [[-0.7, 0.5], [0.6, 0.5], [0.6, -0.62]], color: DASH_GRAY, dash: GRAY, width: 1.4 },
      { pts: [[-0.7, -0.2], [0.6, -0.2]], color: DASH_GRAY, dash: GRAY, width: 1.4 },
    ],
    texts: [
      { t: 'QSO', x: -0.49, y: -0.136, size: 12 },
      { t: 'WD', x: -0.485, y: -0.424, size: 12 },
    ],
  },
  {
    left: 353, top: 300, w: 353, h: 270, box: { l: 65, t: 24, r: 315, b: 199 },
    x: { min: -1, max: 1.5, ticks: P4_X_TICKS, minor: 0.1 },
    y: { min: -0.62, max: 1.64, ticks: P4_Y_TICKS, minor: 0.1 },
    xTitle: 'f \u2212 n', yTitle: 'g \u2212 r', yTitleDy: 5,
    datasets: [
      { data: toPts(P4_OPEN), pointRadius: 2.7, pointBackgroundColor: 'rgba(0,0,0,0)', pointBorderColor: '#0000ff', pointBorderWidth: 1.4 },
      { data: toPts(P4_FILLED), pointRadius: 2.7, pointBackgroundColor: '#ff0000', pointBorderColor: '#0000ff', pointBorderWidth: 1.4 },
    ],
    lines: [
      { pts: [[1.5, 0.5], [0, 0.5], [0, -0.2], [-1, -0.2]], color: DASH_GRAY, dash: GRAY, width: 1.4 },
    ],
    texts: [
      { t: 'QSO', x: 0.65, y: 0.148, size: 16 },
      { t: 'WD', x: -0.9, y: -0.49, size: 16 },
    ],
  },
  {
    left: 0, top: 560, w: 353, h: 270, box: { l: 74, t: 25, r: 325, b: 199 },
    x: { min: -1, max: 5, ticks: P5_X_TICKS, minor: 0.2 },
    y: { min: 16.65, max: 21.24, ticks: P5_Y_TICKS, minor: 0.2, reverse: true },
    xTitle: 'n \u2212 u', yTitle: 'n', yTitleDy: 4,
    datasets: [black(P5_BLACK), red(P5_RED, 1.8)],
    lines: [],
    texts: [{ t: 'Optically resolved', x: -0.66, y: 17.45, size: 16 }],
  },
  {
    left: 353, top: 560, w: 353, h: 270, box: { l: 65, t: 25, r: 315, b: 199 },
    x: { min: -1, max: 1.5, ticks: P6_X_TICKS, minor: 0.1 },
    y: { min: -0.61, max: 1.61, ticks: P6_Y_TICKS, minor: 0.1 },
    xTitle: 'f \u2212 n', yTitle: 'g \u2212 r', yTitleDy: 12,
    datasets: [red(P6_RED, 2)],
    lines: [
      { pts: [[0, 1.0], [0, -0.4]], color: '#0000ff', dash: [6, 4], width: 1 },
    ],
    texts: [
      { t: 'Optically resolved', x: -0.86, y: 1.22, size: 16 },
      { t: 'youngest', x: -0.79, y: -0.19, size: 16 },
      { t: 'SF', x: -0.79, y: -0.37, size: 16 },
      { t: 'SF+AGN', x: 0.21, y: -0.34, size: 16 },
    ],
  },
];

export default function App() {
  return (
    <div style={{ position: 'absolute', left: 0, top: 0, width: 706, height: 940, background: '#fff', overflow: 'hidden' }}>
      <div
        style={{
          position: 'absolute', left: 75, top: 46, font: `16px ${FONT}`, lineHeight: '18px',
          whiteSpace: 'nowrap', color: '#000',
        }}
      >
        Optically unresolved SDSS-GALEX sources
      </div>
      {PANELS.map((c, i) => (
        <Panel key={i} cfg={c} />
      ))}
    </div>
  );
}
